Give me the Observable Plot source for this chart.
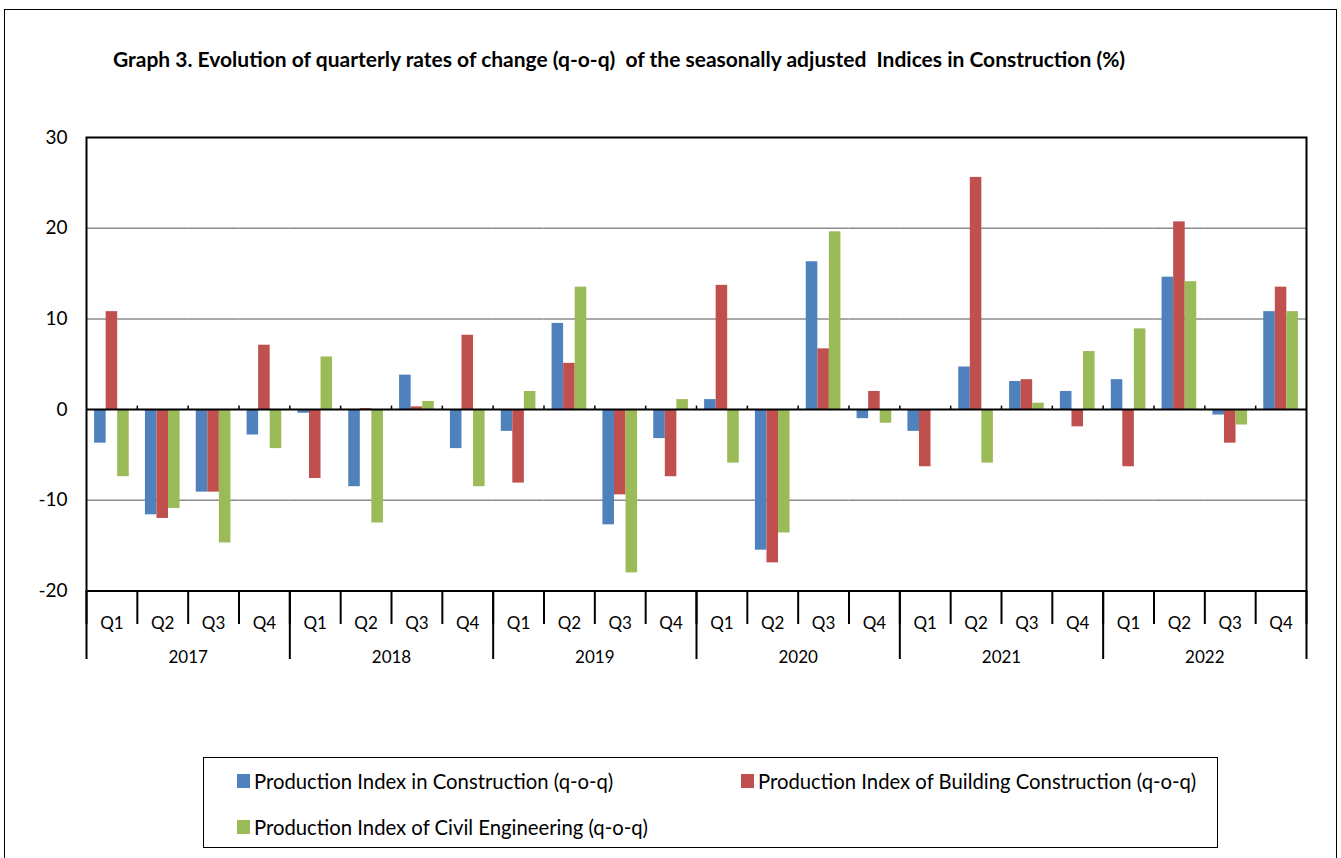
<!DOCTYPE html>
<html>
<head>
<meta charset="utf-8">
<script src="https://cdn.jsdelivr.net/npm/d3@7"></script>
<script src="https://cdn.jsdelivr.net/npm/@observablehq/plot@0.6"></script>
<style>
  html, body { margin: 0; padding: 0; overflow: hidden; background: #fff; }
  #root { position: relative; width: 1341px; height: 858px; font-family: Lato, "Open Sans", sans-serif; color: #000; }
  #outer { position: absolute; left: 4px; top: 9px; width: 1333px; height: 900px; border: 1.5px solid #000; box-sizing: border-box; }
  #title { position: absolute; left: 113px; top: 46px; font-weight: bold; font-size: 21px; white-space: pre; }
  .layer { position: absolute; left: 0; }
  #legend { position: absolute; left: 203px; top: 757px; width: 1015px; height: 91px; border: 1.5px solid #000; box-sizing: border-box; }
  .item { position: absolute; display: flex; align-items: center; white-space: pre; font-size: 20.3px; height: 24px; }
  .sw { width: 13px; height: 14px; margin-right: 4px; flex: none; }
</style>
</head>
<body>
<div id="root">
  <div id="outer"></div>
  <div id="title"></div>
  <div id="legend"></div>
</div>
<script>
// ---- data ----
const years = ["2017", "2018", "2019", "2020", "2021", "2022"];
const quarters = ["Q1", "Q2", "Q3", "Q4"];
const seriesNames = [
  "Production Index in Construction (q-o-q)",
  "Production Index of Building Construction (q-o-q)",
  "Production Index of Civil Engineering (q-o-q)"
];
const construction = [-3.7, -11.6, -9.1, -2.8,  -0.4, -8.5, 3.8, -4.3,  -2.4, 9.5, -12.7, -3.2,  1.1, -15.5, 16.3, -1.0,  -2.4, 4.7, 3.1, 2.0,  3.3, 14.6, -0.6, 10.8];
const building     = [10.8, -12.0, -9.1, 7.1,  -7.6, 0.1, 0.3, 8.2,  -8.1, 5.1, -9.4, -7.4,  13.7, -16.9, 6.7, 2.0,  -6.3, 25.6, 3.3, -1.9,  -6.3, 20.7, -3.7, 13.5];
const civil        = [-7.4, -10.9, -14.7, -4.3,  5.8, -12.5, 0.9, -8.5,  2.0, 13.5, -18.0, 1.1,  -5.9, -13.6, 19.6, -1.5,  0.0, -5.9, 0.7, 6.4,  8.9, 14.1, -1.7, 10.8];
const colors = ["#4F81BD", "#C0504D", "#9BBB59"];
const yTicks = [-20, -10, 0, 10, 20, 30];
const gridTicks = [-10, 10, 20];
const titleText = "Graph 3. Evolution of quarterly rates of change (q-o-q)  of the seasonally adjusted  Indices in Construction (%)";

// ---- derived table ----
const periods = years.flatMap(y => quarters.map(q => `${y} ${q}`));
const table = [construction, building, civil].flatMap((vals, s) =>
  vals.map((v, i) => ({period: periods[i], series: seriesNames[s], value: v})));

const W = 1341, H = 700, mL = 86, mR = 35, mT = 137, mB = 109.5;
const root = document.getElementById("root");

// bars (faceted by quarter)
const main = Plot.plot({
  width: W, height: H, marginLeft: mL, marginRight: mR, marginTop: mT, marginBottom: mB,
  facet: {data: table, x: "period"},
  fx: {domain: periods, padding: 0, round: false, axis: null},
  x: {domain: seriesNames, paddingInner: 0, paddingOuter: 0.7, round: false, axis: null},
  y: {domain: [-20, 30], axis: null},
  color: {domain: seriesNames, range: colors},
  marks: [
    Plot.ruleY(gridTicks, {stroke: "#8c8c8c", strokeWidth: 1.5}),
    Plot.barY(table, {x: "series", y: "value", fill: "series"})
  ]
});
main.classList.add("layer"); main.style.top = "0px";
root.appendChild(main);

// frame, zero line, y axis
const tickSym = {draw(ctx) { ctx.moveTo(0, 0); ctx.lineTo(0, -4); }};
const overlay = Plot.plot({
  width: W, height: H, marginLeft: mL, marginRight: mR, marginTop: mT, marginBottom: mB,
  style: {background: "transparent", fontFamily: "Lato", fontSize: "19px", color: "#000"},
  x: {domain: [0, periods.length], axis: null},
  y: {domain: [-20, 30]},
  marks: [
    Plot.axisY({ticks: yTicks, tickSize: 0, tickPadding: 19, label: null, fill: "#000", tickFormat: d => String(d)}),
    Plot.ruleY([0], {stroke: "#000", strokeWidth: 2}),
    Plot.dot(d3.range(1, periods.length), {x: d => d, y: 0, symbol: tickSym, stroke: "#000", strokeWidth: 1.5, fill: "none"}),
    Plot.frame({stroke: "#000", strokeWidth: 2})
  ]
});
overlay.classList.add("layer"); overlay.style.top = "0px";
root.appendChild(overlay);

// category axis (quarters and years)
const axisPlot = Plot.plot({
  width: W, height: 68, marginLeft: mL, marginRight: mR, marginTop: 0, marginBottom: 0,
  style: {background: "transparent", fontFamily: "Lato", fontSize: "17px", color: "#000", overflow: "visible"},
  x: {domain: [0, periods.length], axis: null},
  marks: [
    Plot.ruleX(d3.range(0, periods.length + 1), {stroke: "#000", strokeWidth: 2, insetBottom: 35}),
    Plot.ruleX(d3.range(0, periods.length + 1, quarters.length), {stroke: "#000", strokeWidth: 2}),
    Plot.text(periods, {x: (d, i) => i + 0.5, text: d => d.split(" ")[1], frameAnchor: "top", dy: 25, fill: "#000"}),
    Plot.text(years, {x: (d, i) => i * quarters.length + quarters.length / 2, text: d => d, frameAnchor: "top", dy: 59.5, fill: "#000"})
  ]
});
axisPlot.classList.add("layer"); axisPlot.style.top = "590.5px";
root.appendChild(axisPlot);

// title
document.getElementById("title").textContent = titleText;

// legend
const legend = document.getElementById("legend");
const legendPos = [[33, 11], [537, 11], [33, 57]];
seriesNames.forEach((name, i) => {
  const it = document.createElement("div");
  it.className = "item";
  it.style.left = legendPos[i][0] + "px";
  it.style.top = legendPos[i][1] + "px";
  const sw = document.createElement("div");
  sw.className = "sw"; sw.style.background = colors[i];
  const tx = document.createElement("span");
  tx.textContent = name;
  it.appendChild(sw); it.appendChild(tx);
  legend.appendChild(it);
});
</script>
</body>
</html>
